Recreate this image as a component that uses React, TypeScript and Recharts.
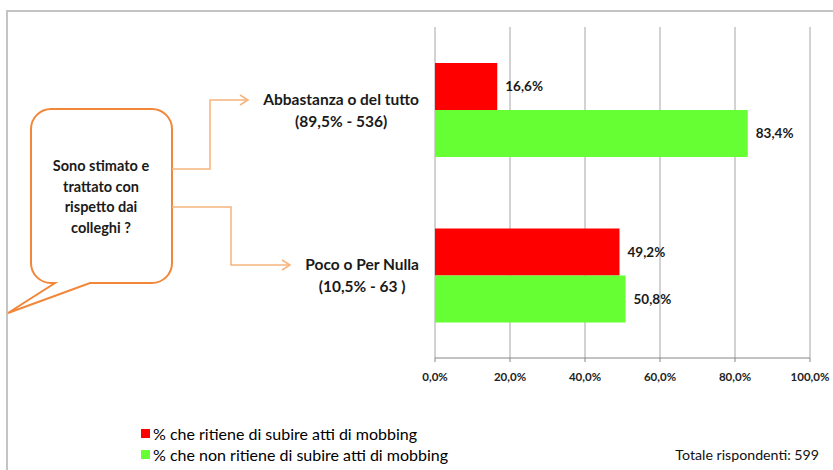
import React from "react";
import { BarChart, Bar, XAxis, YAxis, CartesianGrid, Legend, LabelList } from "recharts";

const categories = ["Abbastanza o del tutto", "Poco o Per Nulla"];
const subLabels = ["(89,5% - 536)", "(10,5% - 63 )"];
const mobbing = [16.6, 49.2];
const noMobbing = [83.4, 50.8];
const xTicks = [0, 20, 40, 60, 80, 100];
const seriesNames = [
  "% che ritiene di subire atti di mobbing",
  "% che non ritiene di subire atti di mobbing",
];
const question = ["Sono stimato e", "trattato con", "rispetto dai", "colleghi ?"];
const totalLabel = "Totale rispondenti: 599";

const data = categories.map((cat, i) => ({
  cat,
  mob: mobbing[i],
  noMob: noMobbing[i],
}));

const pct = (v: number) => `${Number(v).toFixed(1).replace(".", ",")}%`;

function CategoryTick(props: any) {
  const { x, y, payload } = props;
  const i = categories.indexOf(payload.value);
  return (
    <foreignObject x={x - 240} y={y - 24} width={240} height={48}>
      <div style={{ height: 48, display: "flex", justifyContent: "flex-end", alignItems: "center" }}>
        <div
          style={{
            textAlign: "center",
            fontSize: 15.5,
            fontWeight: 700,
            lineHeight: "22px",
            color: "#1a1a1a",
            whiteSpace: "nowrap",
          }}
        >
          {payload.value}
          <br />
          {subLabels[i]}
        </div>
      </div>
    </foreignObject>
  );
}

function renderLegend(props: any) {
  const items = [...(props.payload || [])].sort(
    (a: any, b: any) => seriesNames.indexOf(a.value) - seriesNames.indexOf(b.value)
  );
  return (
    <div>
      {items.map((p: any) => (
        <div
          key={p.value}
          style={{ display: "flex", alignItems: "center", height: 21, fontSize: 16, color: "#000", whiteSpace: "nowrap" }}
        >
          <span style={{ width: 9, height: 9, background: p.color, marginRight: 3, display: "inline-block" }} />
          {p.value}
        </div>
      ))}
    </div>
  );
}

export default function App() {
  const orange = "#F2873A";
  const lightOrange = "#F5B47E";
  return (
    <div
      style={{
        position: "absolute",
        left: 0,
        top: 0,
        width: 833,
        height: 470,
        background: "#fff",
        fontFamily: "Lato, 'Open Sans', sans-serif",
        overflow: "hidden",
      }}
    >
      <BarChart
        width={833}
        height={470}
        data={data}
        layout="vertical"
        margin={{ top: 27, right: 23, bottom: 82, left: 255 }}
        barGap={0}
        style={{ overflow: "visible" }}
      >
        <CartesianGrid yAxisId="cat" horizontal={false} stroke="#a6a6a6" />
        <XAxis
          type="number"
          domain={[0, 100]}
          ticks={xTicks}
          tickFormatter={pct}
          height={30}
          tickSize={4}
          tickMargin={11}
          axisLine={{ stroke: "#868686" }}
          tickLine={{ stroke: "#868686" }}
          tick={{ fontSize: 11.5, fontWeight: 700, fill: "#222" }}
        />
        <YAxis
          yAxisId="frame"
          type="number"
          domain={[0, 2]}
          ticks={[0, 1, 2]}
          width={0}
          tick={false}
          tickSize={5}
          axisLine={{ stroke: "#868686" }}
          tickLine={{ stroke: "#868686" }}
        />
        <YAxis
          yAxisId="cat"
          type="category"
          dataKey="cat"
          width={180}
          axisLine={false}
          tickLine={false}
          tickSize={0}
          tickMargin={16}
          tick={<CategoryTick />}
        />
        <Legend
          layout="vertical"
          align="center"
          verticalAlign="middle"
          content={renderLegend}
          wrapperStyle={{ left: 141, top: 423, width: 400 }}
        />
        <Bar yAxisId="cat" dataKey="mob" name={seriesNames[0]} fill="#FF0000" barSize={47} isAnimationActive={false}>
          <LabelList dataKey="mob" position="right" offset={8} formatter={pct} fill="#1a1a1a" fontSize={13.5} fontWeight={700} />
        </Bar>
        <Bar yAxisId="cat" dataKey="noMob" name={seriesNames[1]} fill="#66FF33" barSize={47} isAnimationActive={false}>
          <LabelList dataKey="noMob" position="right" offset={8} formatter={pct} fill="#1a1a1a" fontSize={13.5} fontWeight={700} />
        </Bar>
      </BarChart>

      <svg
        width={833}
        height={470}
        style={{ position: "absolute", left: 0, top: 0, pointerEvents: "none" }}
      >
        {/* outer frame */}
        <path d="M 7 470 V 11 H 833" fill="none" stroke="#c4c4c4" strokeWidth={2} />

        {/* speech bubble */}
        <path
          d="M 51 109 H 152 A 20 20 0 0 1 172 129 V 263 A 20 20 0 0 1 152 283 H 90 L 8 313 L 55 283 H 51 A 20 20 0 0 1 31 263 V 129 A 20 20 0 0 1 51 109 Z"
          fill="#fff"
          stroke={orange}
          strokeWidth={2}
        />
        {question.map((line, i) => (
          <text
            key={line}
            x={101}
            y={171 + i * 20.7}
            textAnchor="middle"
            fontSize={14.5}
            fontWeight={700}
            fill="#1a1a1a"
          >
            {line}
          </text>
        ))}

        {/* connectors */}
        <g fill="none" stroke={lightOrange} strokeWidth={1.5}>
          <path d="M 172 169 H 210 V 100 H 248" />
          <path d="M 240 95 L 248 100 L 240 105" />
          <path d="M 172 207 H 231 V 265 H 290" />
          <path d="M 282 260 L 290 265 L 282 270" />
        </g>

        <text x={819} y={460} textAnchor="end" fontSize={14.2} fill="#111">
          {totalLabel}
        </text>
      </svg>
    </div>
  );
}
